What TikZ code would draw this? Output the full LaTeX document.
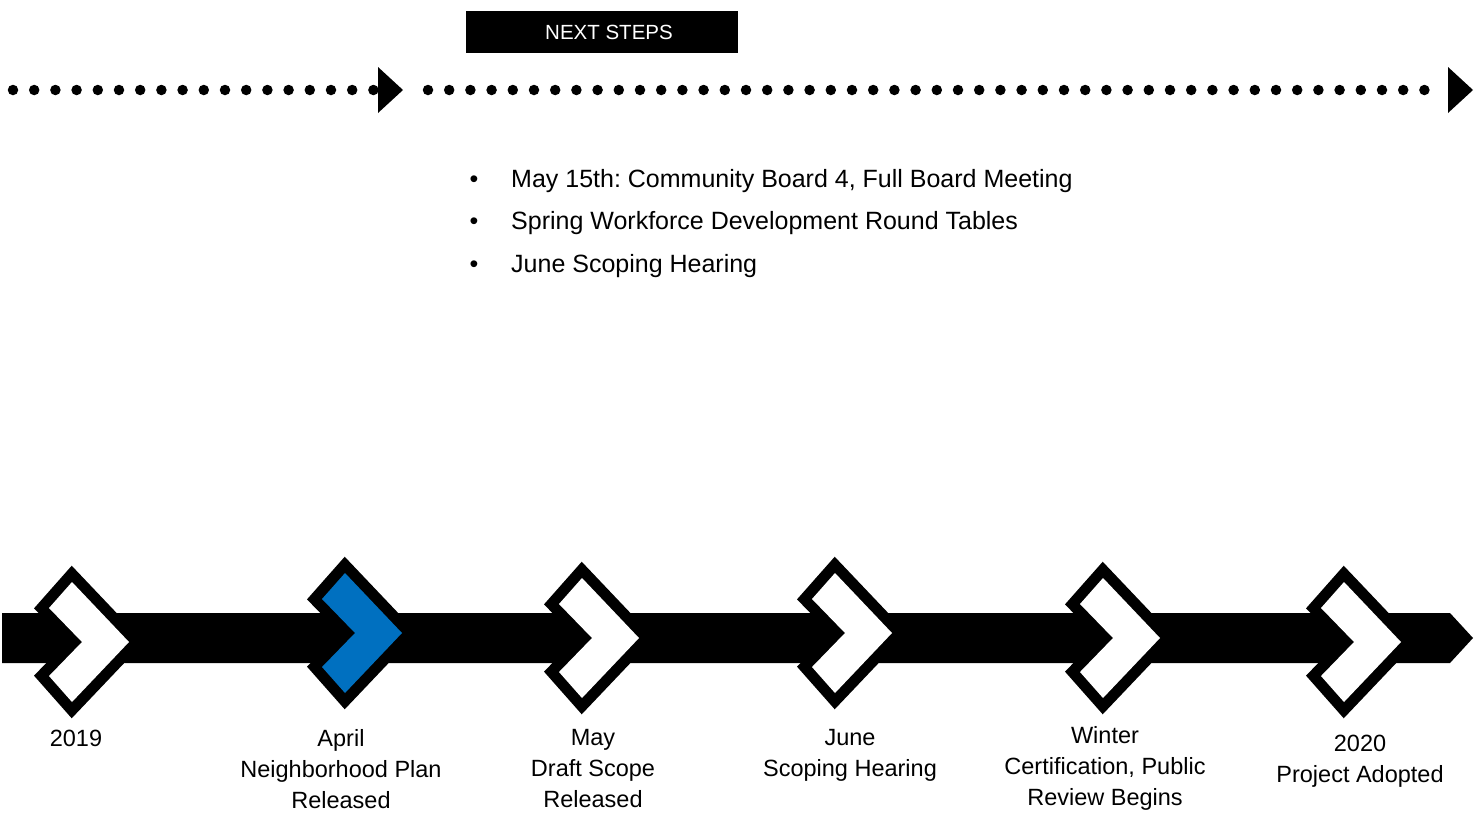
\documentclass[tikz,border=0pt]{standalone}
\usepackage{fontspec}
\setmainfont{Liberation Sans}
\usepackage{xcolor}
\usepackage{tikz}
\frenchspacing

\definecolor{planblue}{RGB}{0,112,192}

% one milestone chevron: #1,#2 centre (x of the top point, y of the tip), #3 fill
\newcommand{\chev}[3]{%
  \draw[line width=22pt, line join=miter] (#1,#2) ++(0,-60) -- ++(57,60) -- ++(-57,60)
    -- ++(-23,-26) -- ++(33,-34) -- ++(-33,-34) -- cycle;
  \fill[#3] (#1,#2) ++(0,-60) -- ++(57,60) -- ++(-57,60)
    -- ++(-23,-26) -- ++(33,-34) -- ++(-33,-34) -- cycle;
}

\begin{document}
\begin{tikzpicture}[x=1pt,y=-1pt,
    dots/.style={line width=10.5pt, line cap=round, dash pattern=on 0pt off 21.2pt},
    label/.style={align=center, anchor=north, inner sep=0pt, font=\fontsize{23.5}{31}\selectfont},
    item/.style={anchor=base west, inner sep=0pt, font=\fontsize{25}{28}\selectfont}]
  \useasboundingbox (0,0) rectangle (1481,812);

  % header box
  \node[fill=black, text=white, minimum width=272pt, minimum height=42pt, inner sep=0pt,
        font=\fontsize{20.5}{24}\selectfont] (next) at (602,32) {\hspace*{14pt}NEXT STEPS};

  % dotted line with two arrow heads
  \coordinate (d1s) at (13,90);
  \coordinate (d1e) at (374,90);
  \coordinate (d2s) at (428,90);
  \coordinate (d2e) at (1425,90);
  \draw[dots] (d1s) -- (d1e);
  \draw[dots] (d2s) -- (d2e);
  \fill (378,67) -- (403,90) -- (378,113) -- cycle;
  \fill (1448,67) -- (1473,90) -- (1448,113) -- cycle;

  % next steps list
  \node[item, anchor=base] (dot1) at (474,187) {•};
  \node[item] (t1) at (511,187) {May 15th: Community Board 4, Full Board Meeting};
  \node[item, anchor=base] (dot2) at (474,229) {•};
  \node[item] (t2) at (511,229) {Spring Workforce Development Round Tables};
  \node[item, anchor=base] (dot3) at (474,272) {•};
  \node[item] (t3) at (511,272) {June Scoping Hearing};

  % timeline bar
  \fill (2,613) -- (1450,613) -- (1473,638) -- (1450,663) -- (2,663) -- cycle;

  \chev{72}{642}{white}
  \chev{345}{633}{planblue}
  \chev{582}{638}{white}
  \chev{835}{633}{white}
  \chev{1103}{638}{white}
  \chev{1344}{642}{white}

  % milestone labels
  \node[label] (y2019) at (76,729.5) {2019};
  \node[label] (april) at (341,729.5) {April\\Neighborhood Plan\\Released};
  \node[label] (may) at (593,729.5) {May\\Draft Scope\\Released};
  \node[label] (june) at (850,729.5) {June\\Scoping Hearing};
  \node[label] (winter) at (1105,726.5) {Winter\\Certification, Public\\Review Begins};
  \node[label] (y2020) at (1360,734.5) {2020\\Project Adopted};
\end{tikzpicture}
\end{document}
